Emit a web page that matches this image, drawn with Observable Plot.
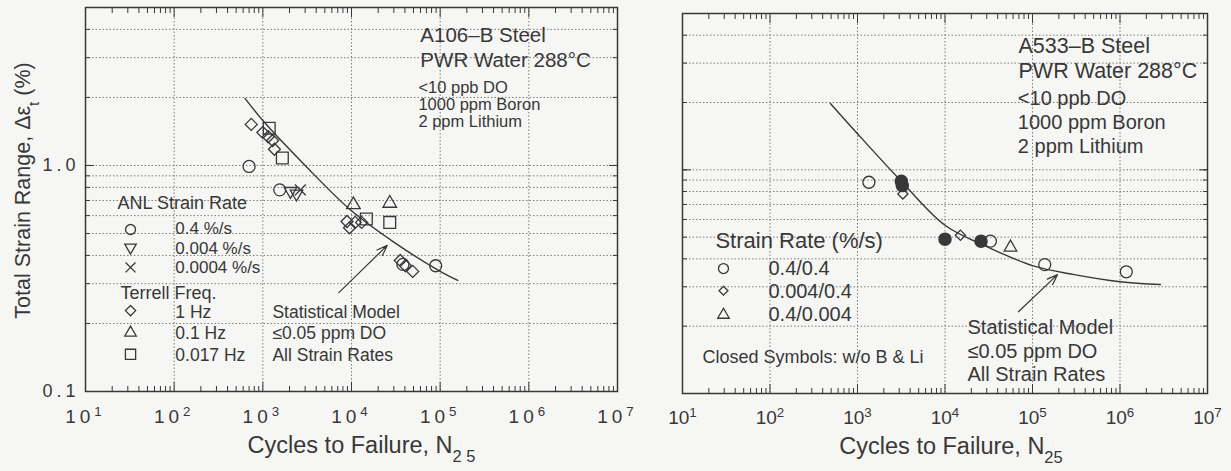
<!DOCTYPE html>
<html>
<head>
<meta charset="utf-8">
<script src="https://cdn.jsdelivr.net/npm/d3@7"></script>
<script src="https://cdn.jsdelivr.net/npm/@observablehq/plot@0.6"></script>
<style>
  html, body { margin: 0; padding: 0; background: #f6f6f4; }
  #charts { display: flex; width: 1231px; height: 471px; }
  #charts svg { display: block; }
  #a106 g[aria-label="x-axis tick label"] text,
  #a106 g[aria-label="y-axis tick label"] text { letter-spacing: 4px; }
  g[aria-label="legend-text"] text { letter-spacing: 1px; }
  g[aria-label="legend-title"] text { letter-spacing: 1.5px; word-spacing: 9px; }
  g[aria-label="axis-title"] text { letter-spacing: 2.1px; }
  g[aria-label="note-small"] text { letter-spacing: 1.6px; }
  g[aria-label="closed-note"] text { letter-spacing: 2px; }
</style>
</head>
<body>
<div id="charts"></div>
<script>
// ---------- A106-B carbon steel, PWR water 288 °C ----------
// fatigue life N25 (cycles) and total strain range (%)
const a106Anl04N = [700, 1550, 38000, 89000];
const a106Anl04V = [0.99, 0.78, 0.365, 0.36];
const a106Anl0004N = [2050, 2400];
const a106Anl0004V = [0.77, 0.75];
const a106Anl00004N = [2650];
const a106Anl00004V = [0.78];
const a106Terrell1HzN = [740, 1000, 1150, 1290, 1350, 8900, 9500, 11000, 13000, 35500, 40600, 49000];
const a106Terrell1HzV = [1.52, 1.40, 1.34, 1.29, 1.18, 0.565, 0.53, 0.56, 0.56, 0.38, 0.36, 0.34];
const a106Terrell01HzN = [10500, 27000];
const a106Terrell01HzV = [0.67, 0.68];
const a106Terrell0017HzN = [1180, 1660, 14700, 27000];
const a106Terrell0017HzV = [1.46, 1.08, 0.58, 0.56];
// statistical model curve, <=0.05 ppm DO, all strain rates
const a106ModelN = [630, 1000, 3000, 10000, 30000, 100000, 158000];
const a106ModelV = [1.98, 1.58, 1.0, 0.63, 0.458, 0.34, 0.31];

// ---------- A533-B low-alloy steel, PWR water 288 °C ----------
const a533Rate04N = [1350, 33000, 138000, 1180000];
const a533Rate04V = [0.88, 0.48, 0.377, 0.35];
const a533NoBLiN = [3170, 3250, 10000, 25800];
const a533NoBLiV = [0.89, 0.85, 0.49, 0.48];
const a533Rate0004N = [3300, 15000];
const a533Rate0004V = [0.78, 0.51];
const a533Rate04_0004N = [56000];
const a533Rate04_0004V = [0.45];
const a533ModelN = [490, 1000, 3160, 10000, 30000, 100000, 300000, 1000000, 2900000];
const a533ModelV = [1.98, 1.45, 0.89, 0.565, 0.454, 0.373, 0.34, 0.316, 0.307];

// ---------- axis ticks ----------
const decadeTicks = [1e1, 1e2, 1e3, 1e4, 1e5, 1e6, 1e7];
const minorMultipliers = [2, 3, 4, 5, 6, 7, 8, 9];
const strainGrid = [0.2, 0.3, 0.4, 0.5, 0.6, 0.7, 0.8, 0.9, 1, 2, 3, 4];
const strainLabels = [0.1, 1];

const minorX = decadeTicks.slice(0, -1).flatMap(d => minorMultipliers.map(m => m * d));
const ink = "#383838";
const gridInk = "#7c7c7c";
const font = "'Liberation Sans', Arial, Helvetica, sans-serif";
const points = (ns, vs) => ns.map((n, i) => ({N: n, V: vs[i]}));
const decadeLabel = d => `10^{${Math.round(Math.log10(d))}}`;
const blank = () => "";

function frameTicks() {
  return [
    Plot.axisX(minorX, {anchor: "bottom", tickSize: -5, tickFormat: blank, stroke: ink, label: null}),
    Plot.axisX(minorX, {anchor: "top", tickSize: -5, tickFormat: blank, stroke: ink, label: null}),
    Plot.axisX(decadeTicks, {anchor: "bottom", tickSize: -9, tickFormat: blank, stroke: ink, label: null}),
    Plot.axisX(decadeTicks, {anchor: "top", tickSize: -9, tickFormat: blank, stroke: ink, label: null}),
    Plot.axisY(strainGrid, {anchor: "left", tickSize: -5, tickFormat: blank, stroke: ink, label: null}),
    Plot.axisY(strainGrid, {anchor: "right", tickSize: -5, tickFormat: blank, stroke: ink, label: null}),
    Plot.axisY([1], {anchor: "left", tickSize: -9, tickFormat: blank, stroke: ink, label: null}),
    Plot.axisY([1], {anchor: "right", tickSize: -9, tickFormat: blank, stroke: ink, label: null})
  ];
}

function grids() {
  return [
    Plot.gridX(decadeTicks, {stroke: gridInk, strokeOpacity: 1, strokeWidth: 1, strokeDasharray: "1.5 2"}),
    Plot.gridY(strainGrid, {stroke: gridInk, strokeOpacity: 1, strokeWidth: 1, strokeDasharray: "1.5 2"})
  ];
}

const openDot = {stroke: ink, fill: "none", strokeWidth: 1.3};

// ---------- left panel ----------
const left = Plot.plot({
  width: 640, height: 471,
  marginLeft: 85, marginRight: 23, marginTop: 7, marginBottom: 80,
  style: {background: "transparent", fontFamily: font, color: ink, overflow: "visible"},
  x: {type: "log", domain: [10, 1e7], axis: null, label: null},
  y: {type: "log", domain: [0.1, 5], axis: null, label: null},
  marks: [
    ...grids(),
    Plot.frame({stroke: ink, strokeWidth: 1.5}),
    ...frameTicks(),
    Plot.axisX(decadeTicks, {anchor: "bottom", tickSize: 0, tickPadding: 18, fontSize: 19, tickFormat: decadeLabel, label: null}),
    Plot.axisY(strainLabels, {anchor: "left", tickSize: 0, tickPadding: 6, fontSize: 18, tickFormat: d => d.toFixed(1), label: null}),
    Plot.text(["Cycles to Failure, N_{2 5}"], {frameAnchor: "bottom", dy: 61, dx: 10, fontSize: 23.5, ariaLabel: "axis-title"}),
    Plot.text(["Total Strain Range, Δε_{t} (%)"], {frameAnchor: "left", textAnchor: "middle", rotate: -90, dx: -62, dy: -9, fontSize: 21.5, ariaLabel: "axis-title"}),

    Plot.line(points(a106ModelN, a106ModelV), {x: "N", y: "V", curve: "catmull-rom", stroke: ink, strokeWidth: 1.4}),
    Plot.arrow([{x1: 7200, y1: 0.274, x2: 25300, y2: 0.443}], {x1: "x1", y1: "y1", x2: "x2", y2: "y2", stroke: ink, strokeWidth: 1.2, headLength: 14, headAngle: 40}),

    Plot.dot(points(a106Anl04N, a106Anl04V), {x: "N", y: "V", symbol: "circle", r: 6, ...openDot}),
    Plot.dot(points(a106Anl0004N, a106Anl0004V), {x: "N", y: "V", symbol: "triangle2", rotate: 180, r: 6, ...openDot}),
    Plot.dot(points(a106Anl00004N, a106Anl00004V), {x: "N", y: "V", symbol: "times", r: 5, ...openDot}),
    Plot.dot(points(a106Terrell1HzN, a106Terrell1HzV), {x: "N", y: "V", symbol: "diamond2", r: 5.4, ...openDot}),
    Plot.dot(points(a106Terrell01HzN, a106Terrell01HzV), {x: "N", y: "V", symbol: "triangle2", r: 6.5, ...openDot}),
    Plot.dot(points(a106Terrell0017HzN, a106Terrell0017HzV), {x: "N", y: "V", symbol: "square2", r: 7.5, ...openDot}),

    // material and environment notes
    Plot.text(["A106–B Steel\nPWR Water 288°C"], {x: 59800, y: 3.35, textAnchor: "start", fontSize: 20.5, lineHeight: 1.22}),
    Plot.text(["<10 ppb DO\n1000 ppm Boron\n2 ppm Lithium"], {x: 56800, y: 1.86, textAnchor: "start", fontSize: 16.5, lineHeight: 1.05, ariaLabel: "note-small"}),

    // legend
    Plot.text(["ANL Strain Rate"], {x: 23, y: 0.679, textAnchor: "start", fontSize: 18, ariaLabel: "legend-text"}),
    Plot.text(["0.4 %/s\n0.004 %/s\n0.0004 %/s"], {x: 103, y: 0.434, textAnchor: "start", fontSize: 17, lineHeight: 1.12, ariaLabel: "legend-text"}),
    Plot.text(["Terrell Freq."], {x: 24.8, y: 0.2715, textAnchor: "start", fontSize: 18, ariaLabel: "legend-text"}),
    Plot.text(["1 Hz\n0.1 Hz\n0.017 Hz"], {x: 103, y: 0.1824, textAnchor: "start", fontSize: 17.5, lineHeight: 1.22, ariaLabel: "legend-text"}),
    Plot.dot([0.521], {x: 32.2, y: d => d, symbol: "circle", r: 5, ...openDot}),
    Plot.dot([0.434], {x: 32.2, y: d => d, symbol: "triangle2", rotate: 180, r: 5.5, ...openDot}),
    Plot.dot([0.354], {x: 32.2, y: d => d, symbol: "times", r: 4.6, ...openDot}),
    Plot.dot([0.228], {x: 32.2, y: d => d, symbol: "diamond2", r: 4.6, ...openDot}),
    Plot.dot([0.182], {x: 32.2, y: d => d, symbol: "triangle2", r: 5.5, ...openDot}),
    Plot.dot([0.146], {x: 32.2, y: d => d, symbol: "square2", r: 6.5, ...openDot}),
    Plot.text(["Statistical Model\n≤0.05 ppm DO\nAll Strain Rates"], {x: 1282, y: 0.1824, textAnchor: "start", fontSize: 17.5, lineHeight: 1.22, ariaLabel: "legend-text"})
  ]
});

// ---------- right panel ----------
const right = Plot.plot({
  width: 591, height: 471,
  marginLeft: 42, marginRight: 24, marginTop: 13, marginBottom: 78,
  style: {background: "transparent", fontFamily: font, color: ink, overflow: "visible"},
  x: {type: "log", domain: [10, 1e7], axis: null, label: null},
  y: {type: "log", domain: [0.1, 5], axis: null, label: null},
  marks: [
    ...grids(),
    Plot.frame({stroke: ink, strokeWidth: 1.5}),
    ...frameTicks(),
    Plot.axisX(decadeTicks, {anchor: "bottom", tickSize: 0, tickPadding: 17, fontSize: 19, tickFormat: decadeLabel, label: null}),
    Plot.text(["Cycles to Failure, N_{25}"], {frameAnchor: "bottom", dy: 60, dx: 6, fontSize: 23.5, ariaLabel: "axis-title"}),

    Plot.line(points(a533ModelN, a533ModelV), {x: "N", y: "V", curve: "catmull-rom", stroke: ink, strokeWidth: 1.4}),
    Plot.arrow([{x1: 69000, y1: 0.232, x2: 193000, y2: 0.34}], {x1: "x1", y1: "y1", x2: "x2", y2: "y2", stroke: ink, strokeWidth: 1.2, headLength: 14, headAngle: 40}),

    Plot.dot(points(a533Rate04N, a533Rate04V), {x: "N", y: "V", symbol: "circle", r: 6, ...openDot}),
    Plot.dot(points(a533NoBLiN, a533NoBLiV), {x: "N", y: "V", symbol: "circle", r: 6, fill: ink, stroke: ink}),
    Plot.dot(points(a533Rate0004N, a533Rate0004V), {x: "N", y: "V", symbol: "diamond2", r: 4.6, ...openDot}),
    Plot.dot(points(a533Rate04_0004N, a533Rate04_0004V), {x: "N", y: "V", symbol: "triangle2", r: 6, ...openDot}),

    // material and environment notes
    Plot.text(["A533–B Steel\nPWR Water 288°C"], {x: 69200, y: 3.18, textAnchor: "start", fontSize: 21.5, lineHeight: 1.16}),
    Plot.text(["<10 ppb DO\n1000 ppm Boron\n2 ppm Lithium"], {x: 68000, y: 1.64, textAnchor: "start", fontSize: 20, lineHeight: 1.2}),

    // legend
    Plot.text(["Strain Rate (%/s)"], {x: 23.8, y: 0.479, textAnchor: "start", fontSize: 22, ariaLabel: "legend-title"}),
    Plot.text(["0.4/0.4\n0.004/0.4\n0.4/0.004"], {x: 96, y: 0.288, textAnchor: "start", fontSize: 20, lineHeight: 1.15, ariaLabel: "legend-text"}),
    Plot.dot([0.362], {x: 29.4, y: d => d, symbol: "circle", r: 5, ...openDot}),
    Plot.dot([0.288], {x: 29.4, y: d => d, symbol: "diamond2", r: 4, ...openDot}),
    Plot.dot([0.2245], {x: 29.4, y: d => d, symbol: "triangle2", r: 5.5, ...openDot}),
    Plot.text(["Closed Symbols: w/o B & Li"], {x: 16.9, y: 0.145, textAnchor: "start", fontSize: 18, ariaLabel: "closed-note"}),
    Plot.text(["Statistical Model\n≤0.05 ppm DO\nAll Strain Rates"], {x: 18070, y: 0.156, textAnchor: "start", fontSize: 20, lineHeight: 1.17})
  ]
});

// turn "_{..}" and "^{..}" into subscript / superscript tspans
function richText(svg) {
  const ns = "http://www.w3.org/2000/svg";
  svg.querySelectorAll("text").forEach(t => {
    const targets = t.querySelector("tspan") ? Array.from(t.querySelectorAll("tspan")) : [t];
    targets.forEach(el => {
      const s = el.textContent;
      if (!/[_^]\{/.test(s)) return;
      el.textContent = "";
      const re = /([_^])\{([^}]*)\}/g;
      let last = 0, m;
      while ((m = re.exec(s))) {
        if (m.index > last) el.appendChild(document.createTextNode(s.slice(last, m.index)));
        const ts = document.createElementNS(ns, "tspan");
        ts.setAttribute("font-size", "70%");
        ts.setAttribute("baseline-shift", m[1] === "^" ? "super" : "sub");
        ts.textContent = m[2];
        el.appendChild(ts);
        last = re.lastIndex;
      }
      if (last < s.length) el.appendChild(document.createTextNode(s.slice(last)));
    });
  });
}

left.id = "a106";
right.id = "a533";
richText(left);
richText(right);
const host = document.getElementById("charts");
host.appendChild(left);
host.appendChild(right);
</script>
</body>
</html>
